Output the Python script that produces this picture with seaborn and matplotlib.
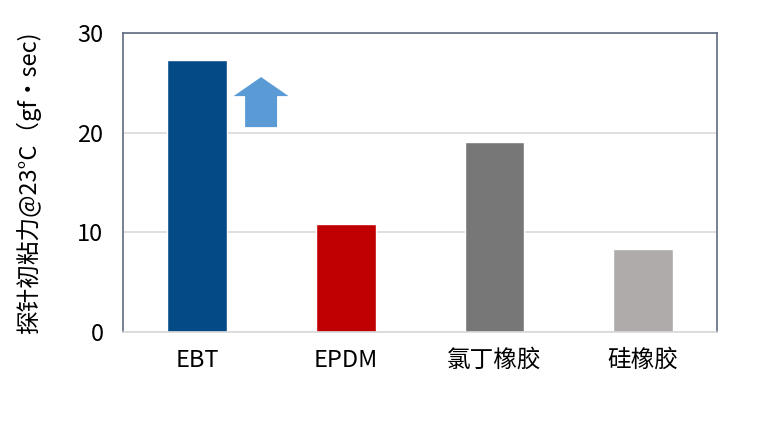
import matplotlib
matplotlib.use("Agg")
import matplotlib.pyplot as plt
from matplotlib.patches import FancyArrow
import seaborn as sns
import pandas as pd

materials = ["EBT", "EPDM", "氯丁橡胶", "硅橡胶"]
tack = [27.3, 10.8, 19.1, 8.3]
bar_colors = ["#034a87", "#c00000", "#777777", "#afabab"]
y_ticks = [0, 10, 20, 30]

sns.set_style("white", {"text.color": "black", "axes.labelcolor": "black",
                        "xtick.color": "black", "ytick.color": "black"})
plt.rcParams['font.family'] = ['Noto Sans CJK SC', 'DejaVu Sans']
plt.rcParams['font.weight'] = 'medium'

df = pd.DataFrame({"material": materials, "tack": tack})

fig = plt.figure(figsize=(7.68, 4.37), dpi=100)
ax = fig.add_axes([0.160, 0.240, 0.774, 0.6845])

sns.barplot(data=df, x="material", y="tack", hue="material",
            palette=bar_colors, width=0.40, saturation=1, legend=False, ax=ax)

ax.set_ylim(0, 30)
ax.set_yticks(y_ticks)
ax.set_xlim(-0.5, len(materials) - 0.5)
ax.yaxis.grid(True, color="#d9d9d9", linewidth=1.2)
ax.set_axisbelow(True)

for side in ["left", "top", "right"]:
    ax.spines[side].set_color("#5f6b7f")
    ax.spines[side].set_linewidth(1.2)
ax.spines["bottom"].set_color("#d9d9d9")
ax.spines["bottom"].set_linewidth(1.2)

ax.tick_params(axis="y", length=0, pad=14, labelsize=17)
ax.tick_params(axis="x", length=0, pad=12, labelsize=17)
ax.set_xlabel("")
ax.set_ylabel("探针初粘力@23°C（gf·sec)", fontsize=17, labelpad=26)

# blue "higher is better" arrow next to the EBT bar
arrow = FancyArrow(0.43, 20.56, 0, 25.58 - 20.56, width=0.215, head_width=0.37,
                   head_length=25.58 - 23.67, length_includes_head=True,
                   color="#5b9bd5", linewidth=0)
ax.add_patch(arrow)

fig.savefig("out.png", dpi=100)
